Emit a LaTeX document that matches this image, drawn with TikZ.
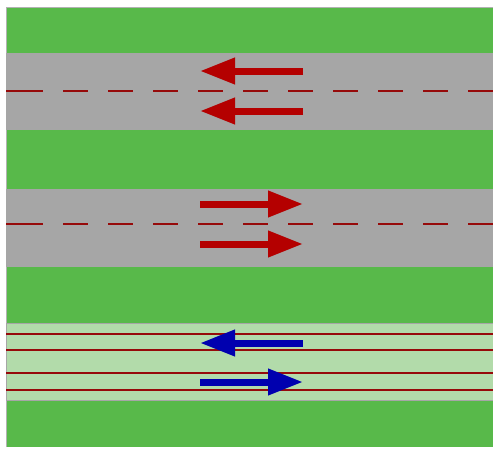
\documentclass[tikz,border=0pt]{standalone}
\usetikzlibrary{arrows.meta}
\definecolor{grass}{RGB}{88,185,74}
\definecolor{asphalt}{RGB}{166,166,166}
\definecolor{pale}{RGB}{178,219,170}
\definecolor{paintred}{RGB}{150,10,10}
\definecolor{redarrow}{RGB}{180,0,0}
\definecolor{bluearrow}{RGB}{0,0,175}
\tikzset{
  band/.style={draw=black!35,line width=0.8pt},
  centre/.style={draw=paintred,line width=2.4pt},
  lanedash/.style={centre,dash pattern=on 25pt off 20pt},
  laneline/.style={draw=paintred,line width=1.8pt},
  flow/.style={line width=7pt,-{Triangle[length=35pt,width=25pt]}},
}
\begin{document}
\begin{tikzpicture}[x=1pt,y=-1pt]
\useasboundingbox (0,0) rectangle (493,448);
\fill[white] (0,0) rectangle (493,448);
% grass background
\fill[grass] (6,7) rectangle (493,447);
\draw[black!30,line width=0.8pt] (6,7) -- (493,7);
\draw[black!30,line width=1pt] (6,7) -- (6,447);
% upper carriageway
\path[fill=asphalt,band] (6,53) rectangle (494,129);
\draw[centre] (6,91) -- (43,91);
\draw[lanedash] (63,91) -- (493,91);
\coordinate (a1s) at (303,71); \coordinate (a1e) at (200,71);
\coordinate (a2s) at (303,111); \coordinate (a2e) at (200,111);
\draw[flow,redarrow] (a1s) -- (a1e);
\draw[flow,redarrow] (a2s) -- (a2e);
% middle carriageway
\path[fill=asphalt,band] (6,189) rectangle (494,266);
\draw[centre] (6,224) -- (43,224);
\draw[lanedash] (63,224) -- (493,224);
\coordinate (b1s) at (200,204); \coordinate (b1e) at (303,204);
\coordinate (b2s) at (200,244); \coordinate (b2e) at (303,244);
\draw[flow,redarrow] (b1s) -- (b1e);
\draw[flow,redarrow] (b2s) -- (b2e);
% lower carriageway
\path[fill=pale,band] (6,323) rectangle (494,400);
\foreach \y in {334,350,373,390}
  \draw[laneline] (6,\y) -- (493,\y);
\coordinate (c1s) at (303,343); \coordinate (c1e) at (200,343);
\coordinate (c2s) at (200,382); \coordinate (c2e) at (303,382);
\draw[flow,bluearrow] (c1s) -- (c1e);
\draw[flow,bluearrow] (c2s) -- (c2e);
\end{tikzpicture}
\end{document}
